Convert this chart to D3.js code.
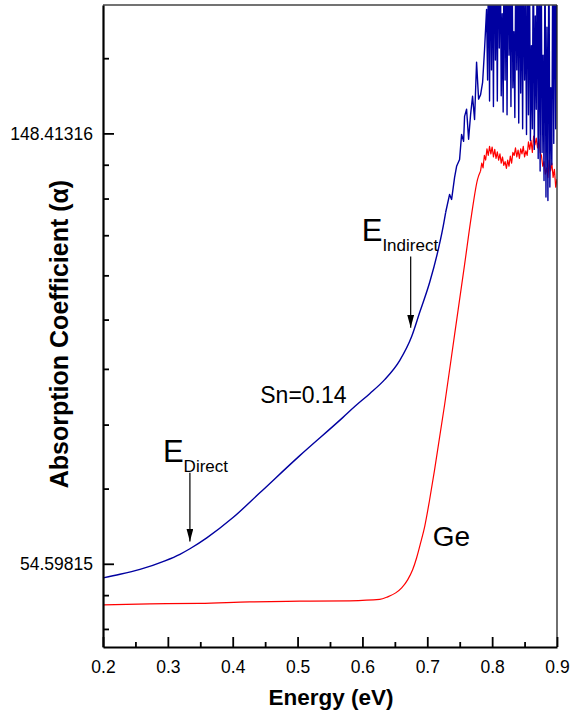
<!DOCTYPE html>
<html>
<head>
<meta charset="utf-8">
<script src="https://d3js.org/d3.v7.min.js"></script>
<style>
  body { margin: 0; background: #fff; }
  svg { display: block; font-family: "Liberation Sans", Arial, sans-serif; }
</style>
</head>
<body>
<div id="chart"></div>
<script>
// Sn=0.14 sample (blue), [energy eV, absorption]
const snSmooth = [
  [0.200, 52.84], [0.2262, 53.28], [0.257, 53.90], [0.2955, 54.98], [0.3186, 55.82],
  [0.334, 56.54], [0.360, 57.99], [0.400, 60.75], [0.4418, 64.39], [0.5034, 70.20],
  [0.5696, 76.68], [0.5881, 78.67], [0.6112, 81.07], [0.6343, 83.76], [0.6574, 87.55],
  [0.6759, 92.58], [0.6882, 97.88], [0.7036, 104.96], [0.7159, 112.55], [0.7236, 118.72],
  [0.7283, 123.5]
];
// rising, jittery part and noisy high-energy tail (runs off the top of the frame)
const snNoisy = [
  [0.7283, 123.5], [0.7344, 128.8], [0.7375, 127.3], [0.7421, 134.0], [0.7452, 137.5],
  [0.7498, 139.7], [0.7529, 148.07], [0.756, 145.7], [0.7575, 154.4], [0.7606, 157.0],
  [0.7637, 146.4], [0.7668, 155.1], [0.7698, 161.8], [0.7729, 153.3], [0.776, 175.1],
  [0.7791, 160.7], [0.7822, 162.4], [0.7853, 167.1], [0.7883, 180.4], [0.7914, 197.9],
  [0.7930, 168], [0.7945, 235], [0.7960, 160], [0.7975, 240], [0.7990, 172], [0.8005, 228],
  [0.8020, 158], [0.8035, 250], [0.8050, 176], [0.8065, 215], [0.8080, 160], [0.8095, 245],
  [0.8110, 181], [0.8125, 232], [0.8140, 162], [0.8155, 196], [0.8170, 156], [0.8185, 240],
  [0.8200, 168], [0.8215, 225], [0.8230, 155], [0.8245, 248], [0.8260, 178], [0.8275, 212],
  [0.8290, 158], [0.8305, 238], [0.8320, 165], [0.8335, 188], [0.8350, 154], [0.8365, 230],
  [0.8380, 172], [0.8395, 222], [0.8410, 152], [0.8425, 242], [0.8440, 163], [0.8455, 218],
  [0.8470, 150], [0.8485, 235], [0.8500, 168], [0.8515, 200], [0.8530, 148], [0.8545, 245],
  [0.8560, 155], [0.8575, 226], [0.8590, 146], [0.8605, 182], [0.8620, 150], [0.8635, 238],
  [0.8650, 143], [0.8665, 195], [0.8680, 157], [0.8695, 232], [0.8710, 140], [0.8725, 220],
  [0.8740, 136], [0.8755, 240], [0.8770, 142], [0.8785, 178], [0.8800, 133], [0.8815, 230],
  [0.8830, 128], [0.8845, 190], [0.8860, 127], [0.8875, 236], [0.8890, 131], [0.8905, 165],
  [0.8920, 138], [0.8935, 228], [0.8950, 145], [0.8965, 240], [0.8980, 150], [0.8995, 210]
];

// Ge reference (red)
const geSmooth = [
  [0.200, 49.63], [0.2724, 49.75], [0.3494, 49.80], [0.4264, 49.97], [0.5034, 50.05],
  [0.5804, 50.10], [0.6266, 50.26], [0.6389, 50.56], [0.6513, 51.03], [0.6605, 51.63],
  [0.6697, 52.60], [0.6774, 53.84], [0.6836, 55.37], [0.6898, 57.34], [0.6959, 59.5],
  [0.7036, 63.36], [0.7113, 67.95], [0.7267, 79.0], [0.7421, 92.98], [0.7575, 109.4],
  [0.7683, 122.9], [0.7775, 133.4], [0.7820, 135.9]
];
const geNoisy = [
  [0.7820, 135.9], [0.7840, 138.5], [0.7860, 137.0], [0.7880, 141.0], [0.7900, 139.5],
  [0.7920, 143.2], [0.7940, 141.0], [0.7960, 144.0], [0.7980, 141.5], [0.8000, 143.8],
  [0.8020, 140.5], [0.8040, 143.0], [0.8060, 140.0], [0.8080, 142.2], [0.8100, 139.5],
  [0.8120, 141.5], [0.8140, 138.5], [0.8160, 140.5], [0.8180, 137.8], [0.8200, 139.0],
  [0.8220, 136.8], [0.8240, 139.5], [0.8260, 137.5], [0.8280, 140.8], [0.8300, 138.5],
  [0.8320, 142.0], [0.8340, 141.0], [0.8360, 143.5], [0.8380, 140.5], [0.8400, 142.8],
  [0.8420, 140.0], [0.8440, 143.2], [0.8460, 141.5], [0.8480, 144.0], [0.8500, 140.5],
  [0.8520, 142.5], [0.8540, 141.0], [0.8560, 145.5], [0.8580, 143.0], [0.8600, 146.0],
  [0.8620, 142.0], [0.8640, 147.5], [0.8660, 144.5], [0.8680, 146.8], [0.8700, 143.5],
  [0.8720, 146.5], [0.8740, 142.0], [0.8760, 141.0], [0.8780, 137.5], [0.8800, 139.0],
  [0.8820, 135.0], [0.8840, 137.0], [0.8860, 134.0], [0.8880, 139.5], [0.8900, 136.0],
  [0.8920, 138.5], [0.8940, 134.0], [0.8960, 136.5], [0.8980, 131.0], [0.9000, 133.5]
];

// axis ticks
const xMajor = [0.2, 0.3, 0.4, 0.5, 0.6, 0.7, 0.8, 0.9];
const xMinor = [0.25, 0.35, 0.45, 0.55, 0.65, 0.75, 0.85];
const yMajor = [Math.exp(4), Math.exp(5)];
const yMajorLabels = ['54.59815', '148.41316'];

// annotations
const labels = [
  { text: 'Sn=0.14', x: 0.4425, y: 79.4, size: 23 },
  { text: 'Ge', x: 0.7085, y: 56.95, size: 28 }
];
const arrows = [
  { main: 'E', sub: 'Direct', tx: 0.2924, ty: 69.2, x: 0.334, yFrom: 67.46, yTo: 57.5 },
  { main: 'E', sub: 'Indirect', tx: 0.5989, ty: 115.7, x: 0.6744, yFrom: 111.5, yTo: 94.5 }
];

const width = 575, height = 713;
const margin = { top: 5, right: 18, bottom: 66, left: 103 };
const innerW = width - margin.left - margin.right;
const innerH = height - margin.top - margin.bottom;

const svg = d3.select('#chart').append('svg')
  .attr('width', width)
  .attr('height', height);

const g = svg.append('g')
  .attr('transform', `translate(${margin.left},${margin.top})`);

const x = d3.scaleLinear().domain([0.2, 0.9]).range([0, innerW]);
const y = d3.scaleLog().base(Math.E).domain([45, 200]).range([innerH, 0]);

// minor ticks on the ln axis: 8 evenly spaced values between e^n and e^(n+1)
const yMinor = [];
[3, 4, 5].forEach(n => {
  const a = Math.exp(n), b = Math.exp(n + 1);
  for (let k = 1; k < 9; k++) yMinor.push(a + k * (b - a) / 9);
});
const yMinorIn = yMinor.filter(v => v > 45 && v < 200);

// clip for the data lines
g.append('clipPath').attr('id', 'plot-clip')
  .append('rect').attr('width', innerW).attr('height', innerH);

const smoothLine = d3.line().x(d => x(d[0])).y(d => y(d[1])).curve(d3.curveMonotoneX);
const line = d3.line().x(d => x(d[0])).y(d => y(d[1]));

const lines = g.append('g').attr('clip-path', 'url(#plot-clip)');

function drawSeries(smooth, noisy, color, w) {
  lines.append('path')
    .datum(smooth)
    .attr('fill', 'none')
    .attr('stroke', color)
    .attr('stroke-width', w)
    .attr('d', smoothLine);
  lines.append('path')
    .datum(noisy)
    .attr('fill', 'none')
    .attr('stroke', color)
    .attr('stroke-width', w)
    .attr('stroke-linejoin', 'round')
    .attr('d', line);
}

drawSeries(geSmooth, geNoisy, '#ff0000', 1.2);
drawSeries(snSmooth, snNoisy, '#0000a0', 1.4);

// frame top / right
g.append('line').attr('x1', 0).attr('x2', innerW).attr('y1', 0).attr('y2', 0)
  .attr('stroke', '#444').attr('stroke-width', 1.3);
g.append('line').attr('x1', innerW).attr('x2', innerW).attr('y1', 0).attr('y2', innerH)
  .attr('stroke', '#222').attr('stroke-width', 1.3);

// x axis
g.append('g')
  .attr('transform', `translate(0,${innerH})`)
  .call(d3.axisBottom(x).tickValues(xMajor).tickFormat(d3.format('.1f'))
    .tickSizeInner(-10).tickSizeOuter(0).tickPadding(14));
g.append('g')
  .attr('transform', `translate(0,${innerH})`)
  .call(d3.axisBottom(x).tickValues(xMinor).tickFormat('')
    .tickSizeInner(-5).tickSizeOuter(0))
  .call(s => s.select('.domain').remove());

// y axis
g.append('g')
  .call(d3.axisLeft(y).tickValues(yMajor).tickFormat((d, i) => yMajorLabels[i])
    .tickSizeInner(-11).tickSizeOuter(0).tickPadding(10));
g.append('g')
  .call(d3.axisLeft(y).tickValues(yMinorIn).tickFormat('')
    .tickSizeInner(-6).tickSizeOuter(0))
  .call(s => s.select('.domain').remove());

g.selectAll('.domain').attr('stroke', '#000').attr('stroke-width', 2.2);
g.selectAll('.tick line').attr('stroke', '#000').attr('stroke-width', 1.8);
g.selectAll('.tick text')
  .attr('fill', '#000')
  .style('font-size', '17.5px')
  .style('font-family', '"Liberation Sans", Arial, sans-serif');

// axis titles
svg.append('text')
  .attr('x', margin.left + innerW / 2 + 1)
  .attr('y', 705)
  .attr('text-anchor', 'middle')
  .style('font-size', '22.5px')
  .style('font-weight', 'bold')
  .text('Energy (eV)');

svg.append('text')
  .attr('transform', `translate(68,${margin.top + innerH / 2 + 8}) rotate(-90)`)
  .attr('text-anchor', 'middle')
  .style('font-size', '25px')
  .style('font-weight', 'bold')
  .text('Absorption Coefficient (α)');

// text labels
g.selectAll('.lbl')
  .data(labels)
  .enter()
  .append('text')
  .attr('class', 'lbl')
  .attr('x', d => x(d.x))
  .attr('y', d => y(d.y))
  .style('font-size', d => d.size + 'px')
  .text(d => d.text);

// arrow markers
svg.append('defs').append('marker')
  .attr('id', 'arrowhead')
  .attr('viewBox', '0 0 13 7')
  .attr('refX', 13).attr('refY', 3.5)
  .attr('markerWidth', 13).attr('markerHeight', 7)
  .attr('markerUnits', 'userSpaceOnUse')
  .attr('orient', 'auto')
  .append('path')
  .attr('d', 'M0,0 L13,3.5 L0,7 Z')
  .attr('fill', '#000');

const ann = g.selectAll('.ann')
  .data(arrows)
  .enter()
  .append('g')
  .attr('class', 'ann');

ann.append('line')
  .attr('x1', d => x(d.x)).attr('x2', d => x(d.x))
  .attr('y1', d => y(d.yFrom)).attr('y2', d => y(d.yTo))
  .attr('stroke', '#000').attr('stroke-width', 1.2)
  .attr('marker-end', 'url(#arrowhead)');

const annText = ann.append('text')
  .attr('x', d => x(d.tx))
  .attr('y', d => y(d.ty));
annText.append('tspan')
  .style('font-size', '31px')
  .text(d => d.main);
annText.append('tspan')
  .attr('dy', 10)
  .style('font-size', '17px')
  .text(d => d.sub);
</script>
</body>
</html>
